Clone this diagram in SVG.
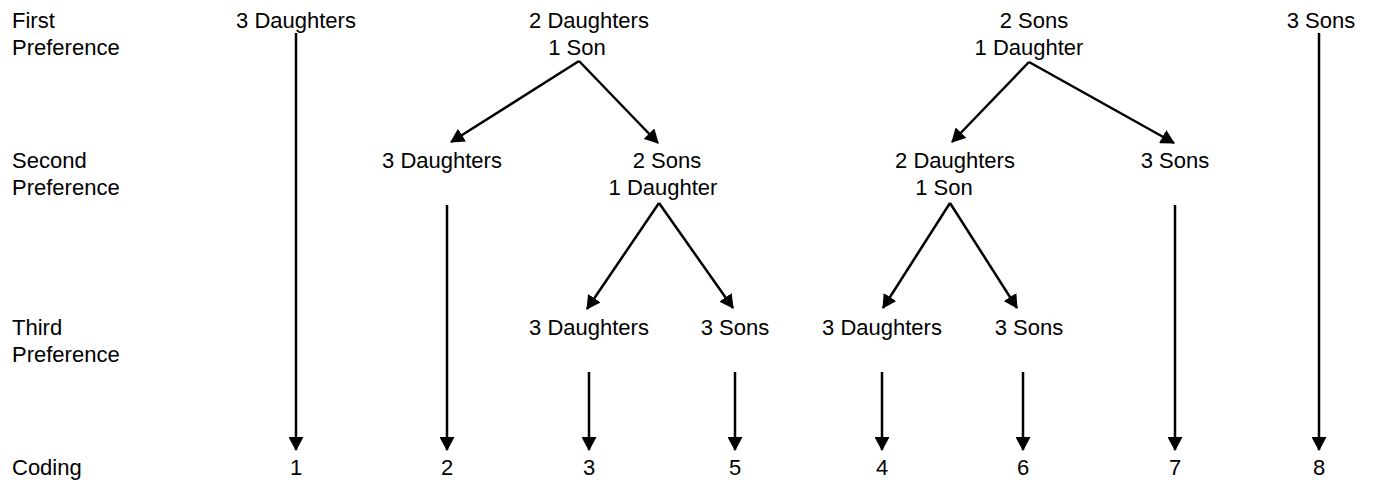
<svg xmlns="http://www.w3.org/2000/svg" width="1375" height="485" viewBox="0 0 1375 485">
  <style>
    text { font-family: "Liberation Sans", Arial, sans-serif; font-size: 22px; fill: #000; }
    .c { text-anchor: middle; }
    .edge { stroke: #000; stroke-width: 2.5; fill: none; marker-end: url(#head); }
  </style>
  <defs>
    <marker id="head" markerUnits="userSpaceOnUse" markerWidth="14" markerHeight="15" refX="13" refY="7.5" orient="auto" viewBox="0 0 14 15">
      <path d="M0,0 L14,7.5 L0,15 z" fill="#000"/>
    </marker>
  </defs>
  <rect width="1375" height="485" fill="#fff"/>

  <!-- row labels -->
  <g id="row-labels">
    <text x="12" y="28">First</text>
    <text x="12" y="55">Preference</text>
    <text x="12" y="168">Second</text>
    <text x="12" y="195">Preference</text>
    <text x="12" y="335">Third</text>
    <text x="12" y="362">Preference</text>
    <text x="12" y="475">Coding</text>
  </g>

  <!-- first preference -->
  <g id="p1-3d"><text class="c" x="296" y="28">3 Daughters</text></g>
  <g id="p1-2d1s"><text class="c" x="589" y="28">2 Daughters</text><text class="c" x="577" y="55">1 Son</text></g>
  <g id="p1-2s1d"><text class="c" x="1034" y="28">2 Sons</text><text class="c" x="1029" y="55">1 Daughter</text></g>
  <g id="p1-3s"><text class="c" x="1321" y="28">3 Sons</text></g>

  <!-- second preference -->
  <g id="p2-3d"><text class="c" x="442" y="168">3 Daughters</text></g>
  <g id="p2-2s1d"><text class="c" x="667" y="168">2 Sons</text><text class="c" x="663" y="195">1 Daughter</text></g>
  <g id="p2-2d1s"><text class="c" x="955" y="168">2 Daughters</text><text class="c" x="944" y="195">1 Son</text></g>
  <g id="p2-3s"><text class="c" x="1175" y="168">3 Sons</text></g>

  <!-- third preference -->
  <g id="p3-3d-a"><text class="c" x="589" y="335">3 Daughters</text></g>
  <g id="p3-3s-a"><text class="c" x="735" y="335">3 Sons</text></g>
  <g id="p3-3d-b"><text class="c" x="882" y="335">3 Daughters</text></g>
  <g id="p3-3s-b"><text class="c" x="1029" y="335">3 Sons</text></g>

  <!-- codes -->
  <g id="code-1"><text class="c" x="296" y="475">1</text></g>
  <g id="code-2"><text class="c" x="447" y="475">2</text></g>
  <g id="code-3"><text class="c" x="589" y="475">3</text></g>
  <g id="code-5"><text class="c" x="735" y="475">5</text></g>
  <g id="code-4"><text class="c" x="882" y="475">4</text></g>
  <g id="code-6"><text class="c" x="1023" y="475">6</text></g>
  <g id="code-7"><text class="c" x="1175" y="475">7</text></g>
  <g id="code-8"><text class="c" x="1319" y="475">8</text></g>

  <!-- connectors -->
  <g id="connectors">
    <line class="edge" x1="296" y1="33" x2="296" y2="450"/>
    <line class="edge" x1="447" y1="205" x2="447" y2="450"/>
    <line class="edge" x1="589" y1="372" x2="589" y2="450"/>
    <line class="edge" x1="735" y1="372" x2="735" y2="450"/>
    <line class="edge" x1="882" y1="372" x2="882" y2="450"/>
    <line class="edge" x1="1023" y1="372" x2="1023" y2="450"/>
    <line class="edge" x1="1175" y1="205" x2="1175" y2="450"/>
    <line class="edge" x1="1319" y1="33" x2="1319" y2="450"/>

    <line class="edge" x1="579" y1="61" x2="451" y2="142"/>
    <line class="edge" x1="579" y1="61" x2="658" y2="143"/>
    <line class="edge" x1="1029" y1="62" x2="952" y2="142"/>
    <line class="edge" x1="1029" y1="62" x2="1174" y2="143"/>

    <line class="edge" x1="659" y1="203" x2="587" y2="309"/>
    <line class="edge" x1="659" y1="203" x2="733" y2="308"/>
    <line class="edge" x1="950" y1="203" x2="883" y2="308"/>
    <line class="edge" x1="950" y1="203" x2="1017" y2="308"/>
  </g>
</svg>
